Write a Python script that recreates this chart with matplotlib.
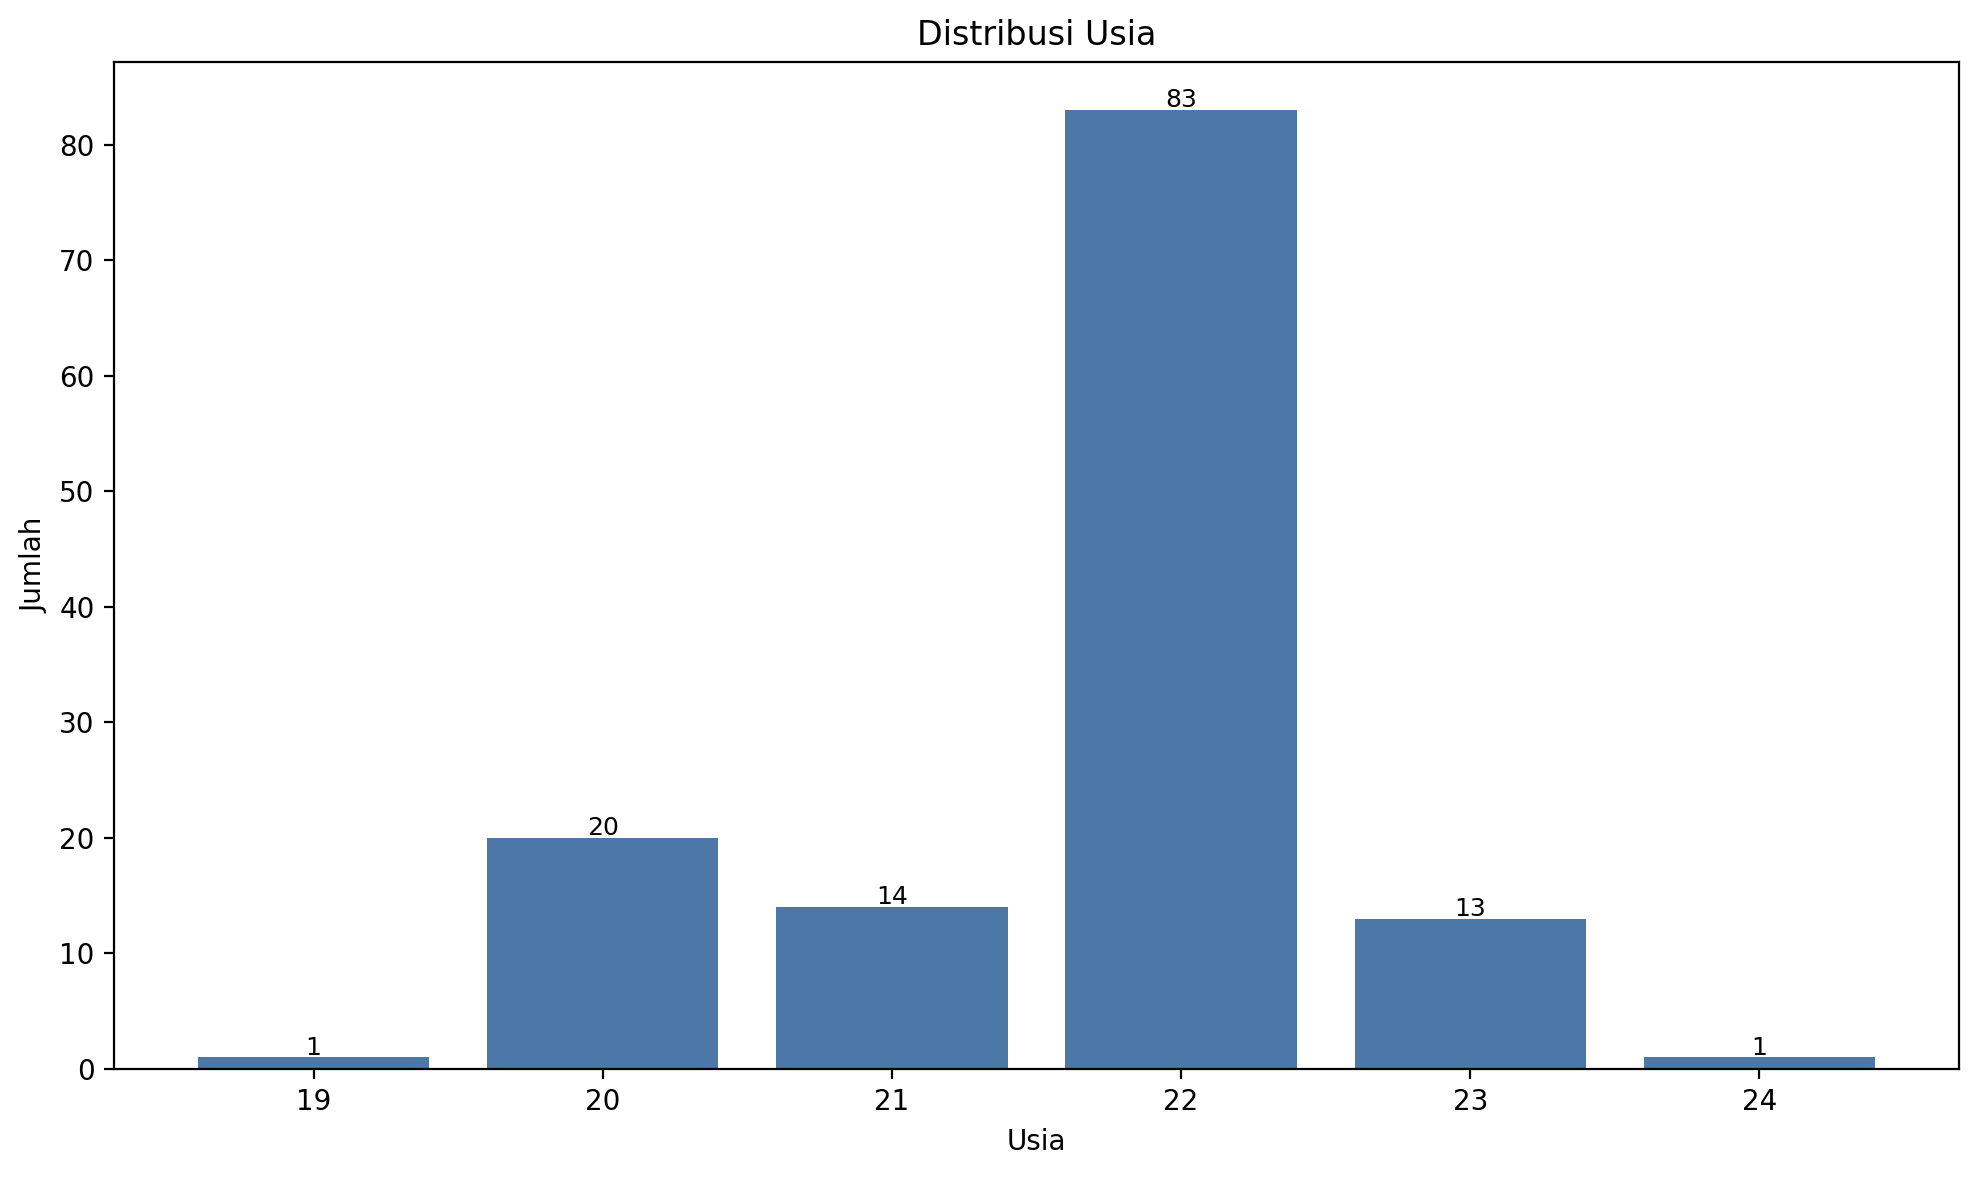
import matplotlib
matplotlib.use("Agg")
import matplotlib.pyplot as plt

ages = [19, 20, 21, 22, 23, 24]
counts = [1, 20, 14, 83, 13, 1]

fig = plt.figure(figsize=(9.9, 5.885), dpi=200)
ax = fig.add_axes([114/1980, 1 - 1069/1177, (1959 - 114)/1980, (1069 - 62)/1177])
bars = ax.bar(ages, counts, color="#4C78A8", width=0.8)
for x, v in zip(ages, counts):
    ax.annotate(str(v), xy=(x, v), xytext=(0, 1), textcoords="offset points",
                ha="center", va="baseline", fontsize=9)
ax.set_title("Distribusi Usia", fontsize=12)
ax.set_xlabel("Usia")
ax.set_ylabel("Jumlah")
ax.set_xticks(ages)
fig.savefig("out.png", dpi=200)
